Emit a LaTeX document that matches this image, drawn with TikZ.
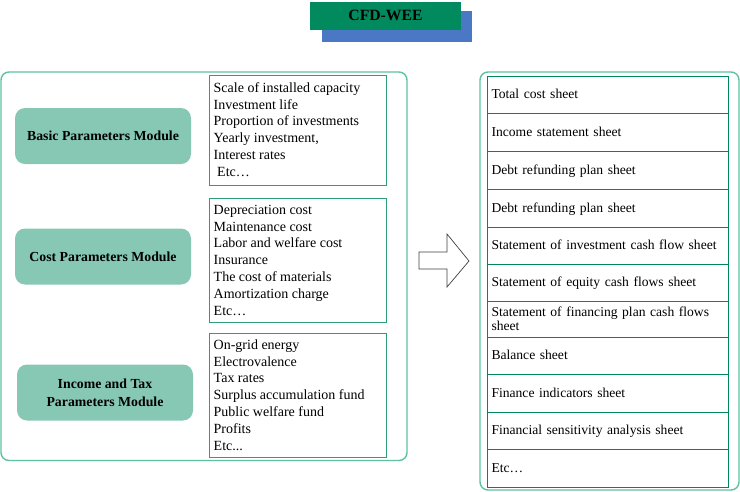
\documentclass[tikz,border=0pt]{standalone}
\usepackage{fontspec}
\setmainfont{Liberation Serif}
\definecolor{titlegreen}{HTML}{008A5E}
\definecolor{titleblue}{HTML}{4A78C4}
\definecolor{modfill}{HTML}{86C8B4}
\definecolor{outerline}{HTML}{5EC2A0}
\definecolor{listline}{HTML}{2E9E77}
\definecolor{tableline}{HTML}{00875A}
\definecolor{arrowline}{HTML}{404040}
\begin{document}
\begin{tikzpicture}[x=1pt,y=-1pt,
 outerbox/.style={draw=outerline, line width=1.4pt, rounded corners=8pt},
 module/.style={fill=modfill, rounded corners=10pt, font=\fontsize{13.8}{18}\selectfont\bfseries, align=center, minimum width=176pt, minimum height=56pt, inner sep=0pt},
 listbox/.style={draw=listline, line width=1pt, minimum width=177pt, anchor=north west, inner sep=0pt},
 listtext/.style={anchor=north west, align=left, font=\fontsize{14}{16.8}\selectfont, inner sep=0pt},
 rowbox/.style={draw=tableline, line width=1pt, anchor=north west, minimum width=241pt, text width=233pt, align=left, inner xsep=4pt, inner ysep=0pt, text height=10pt, text depth=3pt, font=\fontsize{13.6}{14}\selectfont}]
\useasboundingbox (0,0) rectangle (740,491);

% title
\node[fill=titleblue, minimum width=150pt, minimum height=31pt, inner sep=0pt] (tb) at (397,26.5) {};
\node[fill=titlegreen, minimum width=151pt, minimum height=28pt, inner sep=0pt, font=\fontsize{15.7}{18}\selectfont\bfseries] (title) at (385.5,15.5) {CFD-WEE};

% left outer box
\draw[outerbox] (1,72) rectangle (407,460.5);

% modules
\node[module] (m1) at (103,136) {Basic Parameters Module};
\node[module] (m2) at (103,256.5) {Cost Parameters Module};
\node[module] (m3) at (105,392.5) {Income and Tax\\Parameters Module};

% list boxes
\node[listbox, minimum height=110pt] (l1) at (209,75) {};
\node[listbox, minimum height=124pt] (l2) at (209,198) {};
\node[listbox, minimum height=124pt] (l3) at (209,333) {};

\node[listtext] (t1) at (213.5,81) {\rule{0pt}{11pt}Scale of installed capacity\\Investment life\\Proportion of investments\\Yearly investment,\\Interest rates\\\hspace{3.5pt}Etc\dots};
\node[listtext] (t2) at (213.5,203) {\rule{0pt}{11pt}Depreciation cost\\Maintenance cost\\Labor and welfare cost\\Insurance\\The cost of materials\\Amortization charge\\Etc\dots};
\node[listtext] (t3) at (213.5,338) {\rule{0pt}{11pt}On-grid energy\\Electrovalence\\Tax rates\\Surplus accumulation fund\\Public welfare fund\\Profits\\Etc...};

% block arrow
\draw[draw=arrowline, line width=0.7pt, fill=white, line join=miter]
  (419,252) -- (447,252) -- (447,234) -- (469,261) -- (447,287) -- (447,269) -- (419,269) -- cycle;

% right outer box
\draw[outerbox] (480,72) rectangle (739,490);

% table rows
\node[rowbox, minimum height=37pt] (r1) at (487,76) {Total cost sheet};
\node[rowbox, minimum height=38pt] (r2) at (487,113) {Income statement sheet};
\node[rowbox, minimum height=38pt] (r3) at (487,151) {Debt refunding plan sheet};
\node[rowbox, minimum height=38pt] (r4) at (487,189) {Debt refunding plan sheet};
\node[rowbox, minimum height=37pt] (r5) at (487,227) {Statement of investment cash flow sheet};
\node[rowbox, minimum height=37pt] (r6) at (487,264) {Statement of equity cash flows sheet};
\node[rowbox, minimum height=36pt, text depth=17pt] (r7) at (487,301) {Statement of financing plan cash flows\\sheet};
\node[rowbox, minimum height=37pt] (r8) at (487,337) {Balance sheet};
\node[rowbox, minimum height=38pt] (r9) at (487,374) {Finance indicators sheet};
\node[rowbox, minimum height=37pt] (r10) at (487,412) {Financial sensitivity analysis sheet};
\node[rowbox, minimum height=38pt] (r11) at (487,449) {Etc\dots};
\end{tikzpicture}
\end{document}
